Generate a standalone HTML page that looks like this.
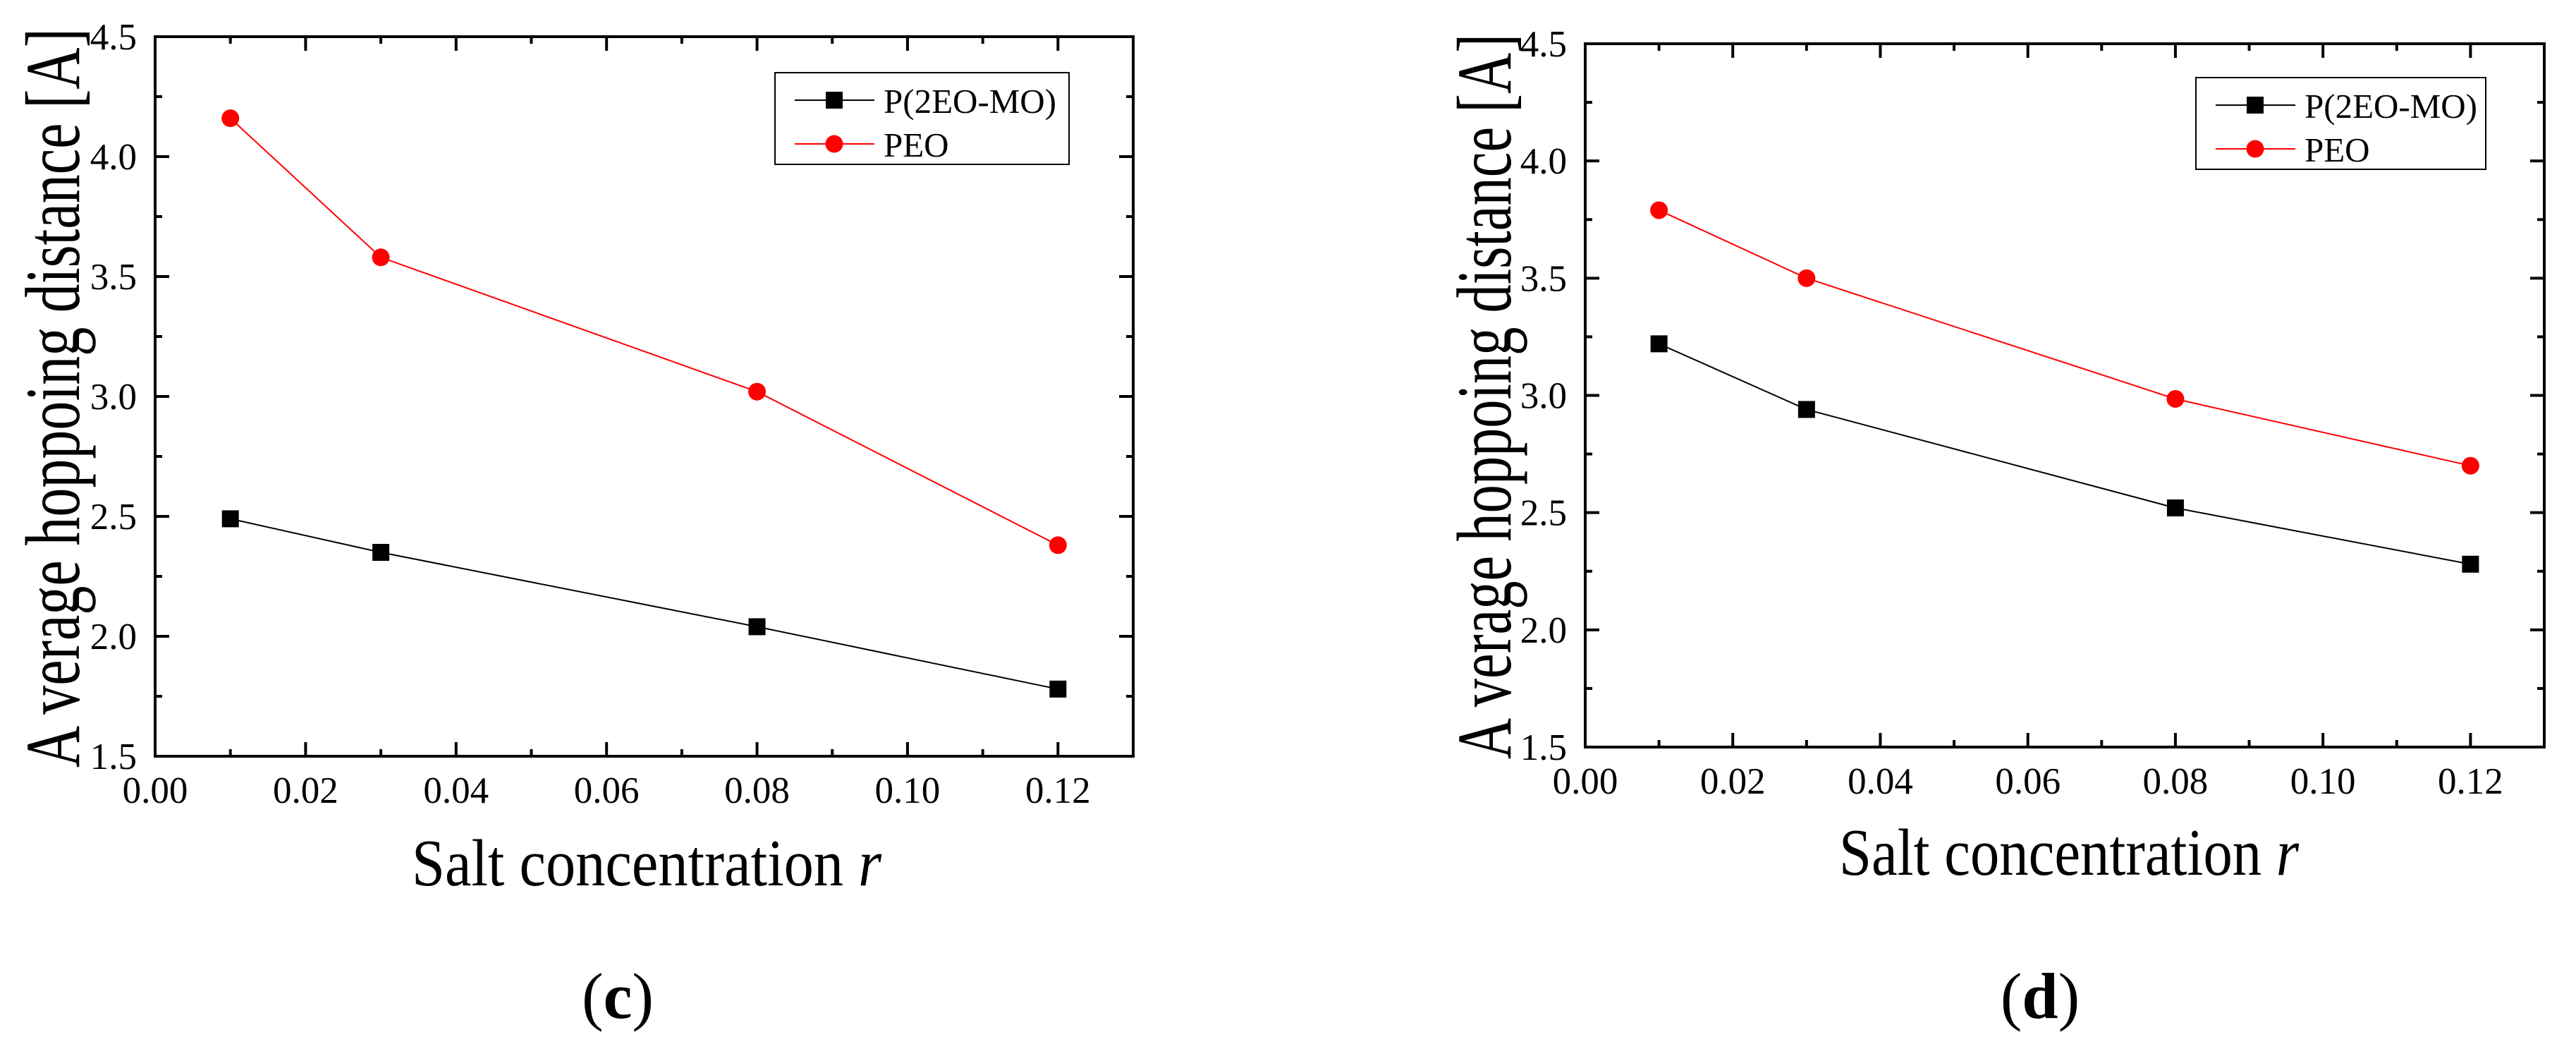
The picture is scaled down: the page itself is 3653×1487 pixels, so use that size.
<!DOCTYPE html>
<html><head><meta charset="utf-8"><style>
html,body{margin:0;padding:0;background:#fff;}
svg, svg text{font-family:"Liberation Serif","DejaVu Serif","Times New Roman",serif;}
</style></head><body>
<svg id="fig" width="3653" height="1482" viewBox="0 0 3653 1482" xmlns="http://www.w3.org/2000/svg" font-family="Liberation Serif, DejaVu Serif, serif"></svg>
<script>
const categories = [0.01, 0.03, 0.08, 0.12];
const seriesNames = ["P(2EO-MO)", "PEO"];
const cP2EO = [2.49, 2.35, 2.04, 1.78];
const cPEO = [4.16, 3.58, 3.02, 2.38];
const dP2EO = [3.22, 2.94, 2.52, 2.28];
const dPEO = [3.79, 3.50, 2.985, 2.70];
const xTickLabels = ["0.00","0.02","0.04","0.06","0.08","0.10","0.12"];
const yTickLabels = ["1.5","2.0","2.5","3.0","3.5","4.0","4.5"];

const NS = "http://www.w3.org/2000/svg";
const svg = document.getElementById("fig");
const FF = "Liberation Serif, DejaVu Serif, serif";
function mk(tag, attrs, parent){const e=document.createElementNS(NS,tag);for(const k in attrs)e.setAttribute(k,attrs[k]);if(tag==="text")e.setAttribute("font-family",FF);(parent||svg).appendChild(e);return e;}

function panel(cfg, pVals, eVals){
  const g = mk("g",{});
  
  
  const L=cfg.L,R=cfg.R,T=cfg.T,B=cfg.B;
  const xs = v => L + (v-0)/(0.13)*(R-L);
  const ys = v => B - (v-1.5)/3*(B-T);
  for(let i=0;i<=13;i++){
    const v=i*0.01, x=xs(v), len = (i%2===0)?20:10;
    const t1=mk("line",{x1:x,y1:B,x2:x,y2:B-len,stroke:"#000","stroke-width":4},g);
    
    
    mk("line",{x1:x,y1:T,x2:x,y2:T+len,stroke:"#000","stroke-width":4},g);
  }
  for(let i=0;i<=12;i++){
    const v=1.5+i*0.25, y=ys(v), len=(i%2===0)?20:10;
    const t1=mk("line",{x1:L,y1:y,x2:L+len,y2:y,stroke:"#000","stroke-width":4},g);
    
    
    mk("line",{x1:R,y1:y,x2:R-len,y2:y,stroke:"#000","stroke-width":4},g);
  }
  const frame=mk("rect",{x:L,y:T,width:R-L,height:B-T,fill:"none",stroke:"#000","stroke-width":4},g);
  
  
  xTickLabels.forEach((s,i)=>{
    const t=mk("text",{x:xs(i*0.02),y:B+66,"font-size":53,"text-anchor":"middle",fill:"#000"},g);
    t.textContent=s;
    
    
  });
  yTickLabels.forEach((s,i)=>{
    const t=mk("text",{x:cfg.ylabX,y:ys(1.5+i*0.5)+18,"font-size":53,"text-anchor":"end",fill:"#000"},g);
    t.textContent=s;
    
    
  });
  const mkLine=(vals,color,nm)=>{
    const pts=vals.map((v,i)=>xs(categories[i])+","+ys(v)).join(" ");
    const pl=mk("polyline",{points:pts,fill:"none",stroke:color,"stroke-width":2},g);
    
    
  };
  mkLine(pVals,"#000","p2eo-mo");
  mkLine(eVals,"#ff0000","peo");
  pVals.forEach((v,i)=>{
    const r=mk("rect",{x:xs(categories[i])-12,y:ys(v)-12,width:24,height:24,fill:"#000"},g);
    
    
  });
  eVals.forEach((v,i)=>{
    const c=mk("circle",{cx:xs(categories[i]),cy:ys(v),r:12.5,fill:"#ff0000"},g);
    
    
  });
  const lg=mk("g",{},g);
  
  
  mk("rect",{x:cfg.lgX,y:cfg.lgY,width:cfg.lgW,height:130,fill:"#fff",stroke:"#000","stroke-width":2},lg);
  const lx=cfg.lgX+28, mx=cfg.lgX+84, tx=cfg.lgX+154;
  const e1=mk("g",{},lg);
  
  
  mk("line",{x1:lx,y1:cfg.lgY+39,x2:lx+113,y2:cfg.lgY+39,stroke:"#000","stroke-width":2},e1);
  mk("rect",{x:mx-12,y:cfg.lgY+27,width:24,height:24,fill:"#000"},e1);
  const t1=mk("text",{x:tx,y:cfg.lgY+57,"font-size":49,fill:"#000"},e1);t1.textContent=seriesNames[0];
  const e2=mk("g",{},lg);
  
  
  mk("line",{x1:lx,y1:cfg.lgY+101,x2:lx+113,y2:cfg.lgY+101,stroke:"#ff0000","stroke-width":2},e2);
  mk("circle",{cx:mx,cy:cfg.lgY+101,r:12.5,fill:"#ff0000"},e2);
  const t2=mk("text",{x:tx,y:cfg.lgY+119,"font-size":49,fill:"#000"},e2);t2.textContent=seriesNames[1];
  const yt=mk("text",{x:0,y:0,"font-size":110,"text-anchor":"middle",fill:"#000",textLength:cfg.ytLen,lengthAdjust:"spacingAndGlyphs",transform:`translate(${cfg.ytX},${cfg.ytY}) rotate(-90)`},g);
  yt.textContent="A verage hoppoing distance [A]";
  
  
  const xt=mk("text",{x:cfg.xtX,y:cfg.xtY,"font-size":94,"text-anchor":"middle",fill:"#000",textLength:cfg.xtLen,lengthAdjust:"spacingAndGlyphs"},g);
  xt.innerHTML='Salt concentration <tspan font-style="italic">r</tspan>';
  
  
  const pl=mk("text",{x:cfg.plX,y:1443,"font-size":92,"text-anchor":"middle",fill:"#000"},g);
  pl.innerHTML='(<tspan font-weight="bold">'+cfg.letter+'</tspan>)';
  
  
}

panel({name:"panel-c",letter:"c",L:220,R:1607,T:52,B:1072,ylabX:194,lgX:1099,lgY:103,lgW:417,
  ytX:112,ytY:564,ytLen:1048,xtX:917,xtY:1255,xtLen:666,plX:876},cP2EO,cPEO);
panel({name:"panel-d",letter:"d",L:2248,R:3608,T:62,B:1059,ylabX:2222,lgX:3114,lgY:110,lgW:411,
  ytX:2142,ytY:562,ytLen:1028,xtX:2934,xtY:1240,xtLen:652,plX:2893},dP2EO,dPEO);
</script>
</body></html>
